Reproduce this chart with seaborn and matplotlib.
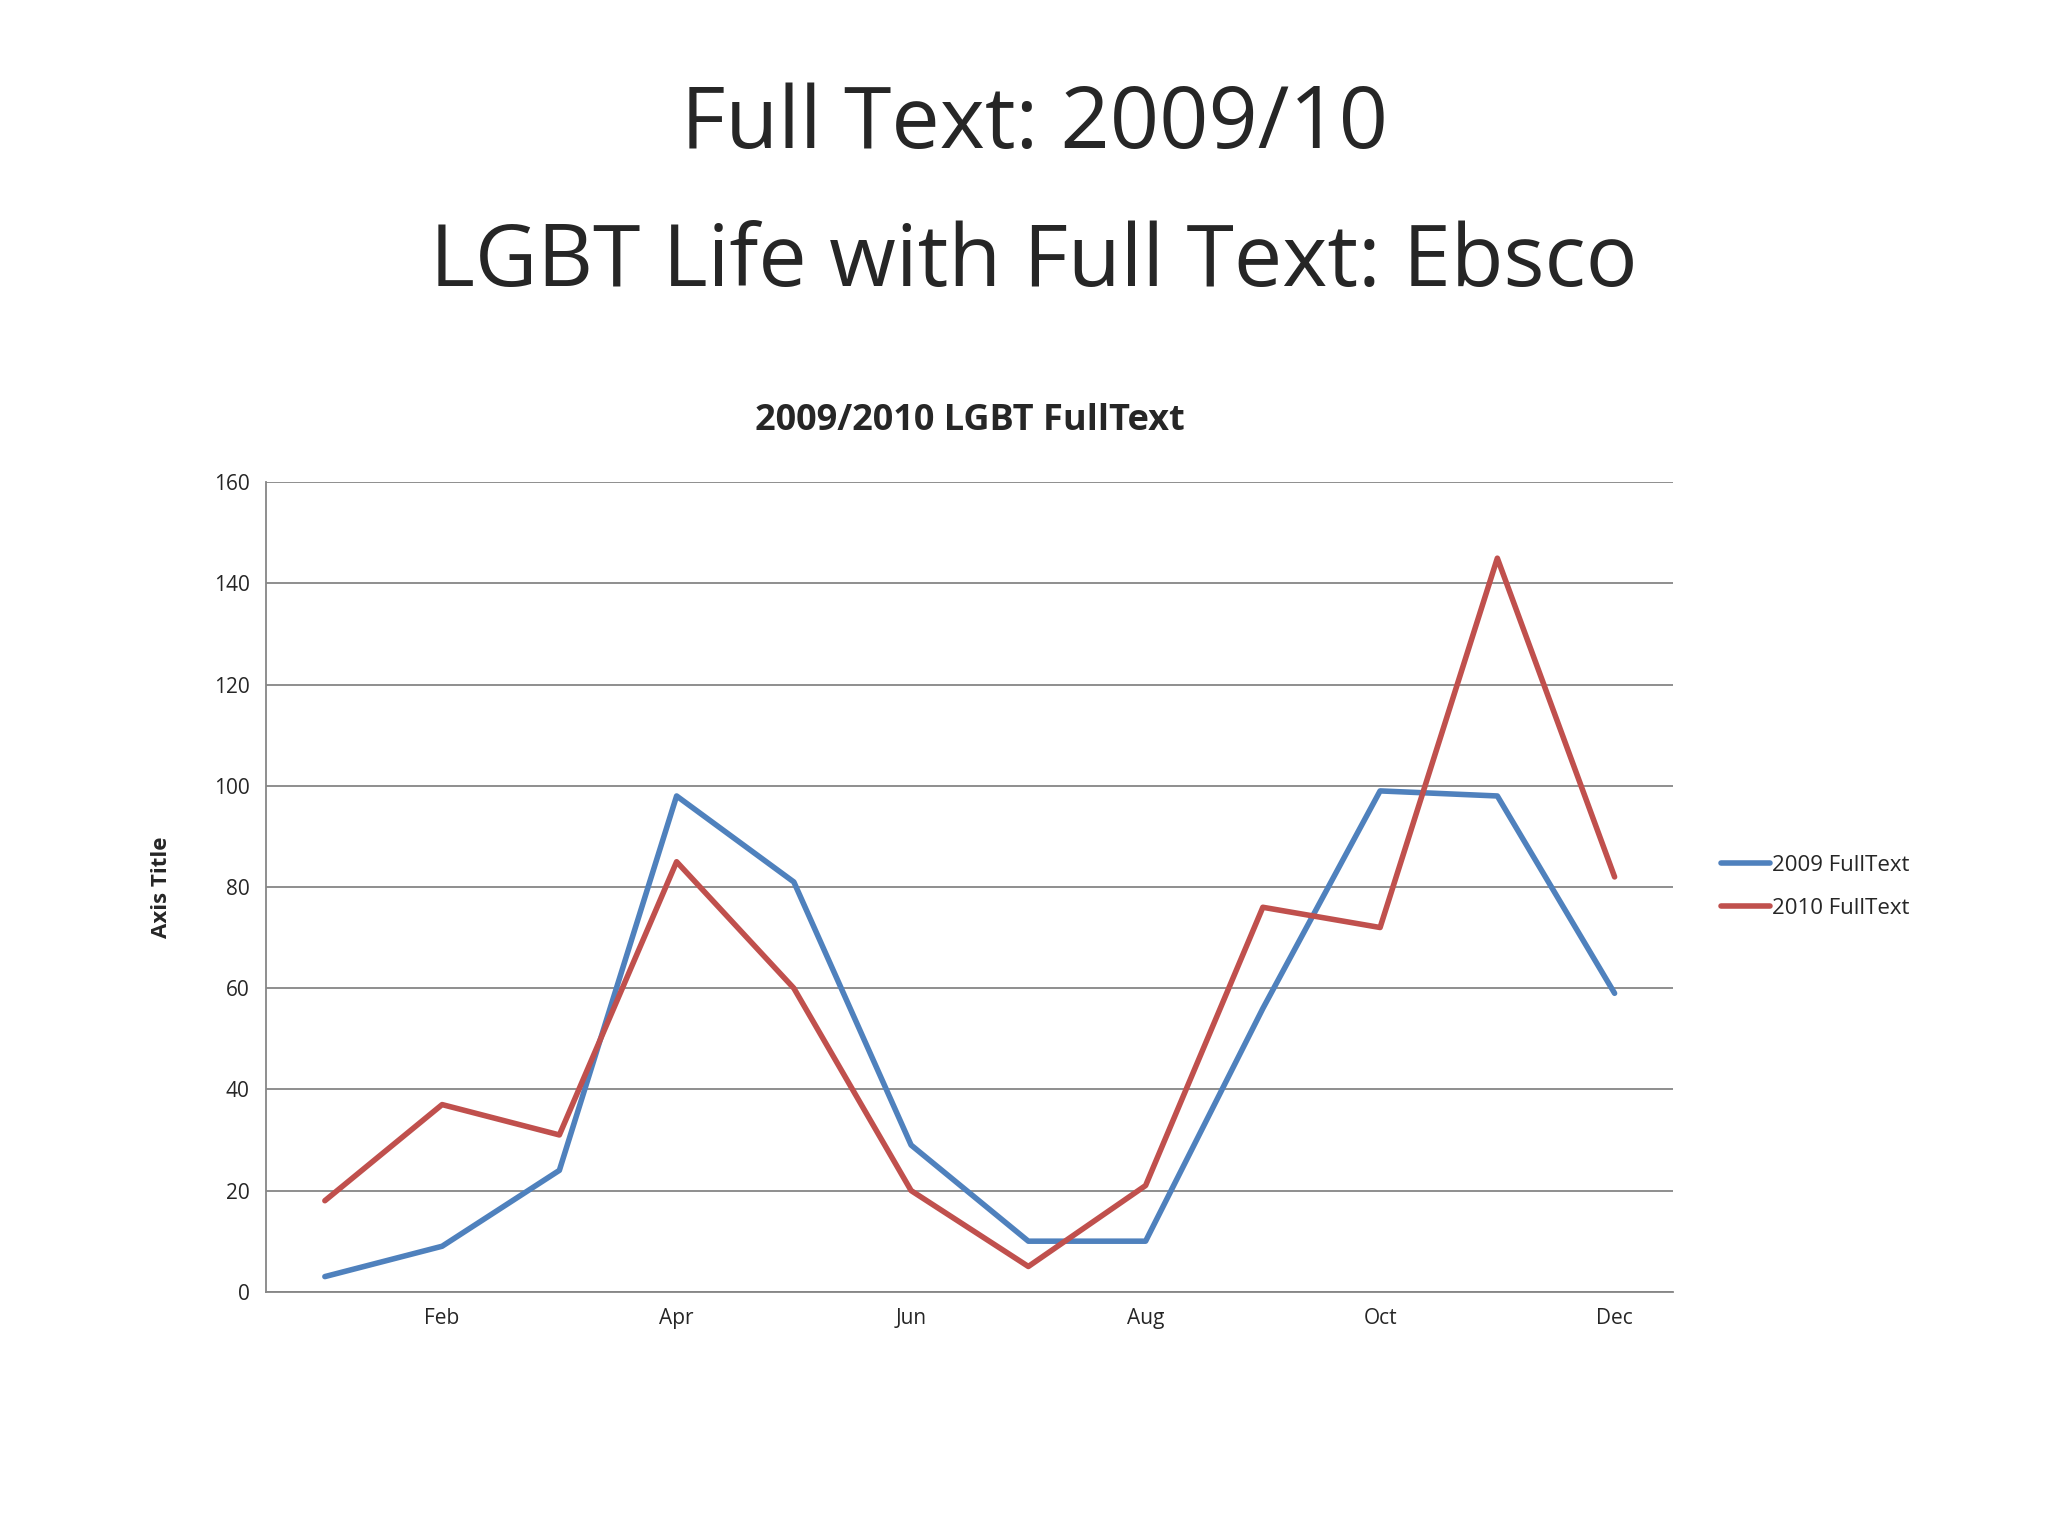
import matplotlib
matplotlib.use("Agg")
import matplotlib.pyplot as plt
import seaborn as sns
import pandas as pd

months = ["Jan","Feb","Mar","Apr","May","Jun","Jul","Aug","Sep","Oct","Nov","Dec"]
fulltext_2009 = [3, 9, 24, 98, 81, 29, 10, 10, 56, 99, 98, 59]
fulltext_2010 = [18, 37, 31, 85, 60, 20, 5, 21, 76, 72, 145, 82]
series_names = ["2009 FullText", "2010 FullText"]
colors = ["#4F81BD", "#C0504D"]

sns.set_style("white")
plt.rcParams['font.family'] = ['Open Sans', 'DejaVu Sans']

df = pd.DataFrame({
    "x": list(range(12)) * 2,
    "v": fulltext_2009 + fulltext_2010,
    "s": [series_names[0]] * 12 + [series_names[1]] * 12,
})

fig = plt.figure(figsize=(20.48, 15.36), dpi=100)
ax = fig.add_axes([0.130, 0.159, 0.687, 0.527])
sns.lineplot(data=df, x="x", y="v", hue="s", palette=colors, linewidth=4, ax=ax)

ax.set_xlim(-0.5, 11.5)
ax.set_ylim(0, 160)
ax.set_yticks(range(0, 161, 20))
ax.set_xticks(range(1, 12, 2))
ax.set_xticklabels(months[1::2])
ax.tick_params(axis='both', labelsize=15, length=0, pad=12)
ax.grid(axis='y', color='#868686', linewidth=1.3)
ax.set_axisbelow(True)
for sp in ["top", "right"]:
    ax.spines[sp].set_visible(False)
for sp in ["left", "bottom"]:
    ax.spines[sp].set_color('#868686')
    ax.spines[sp].set_linewidth(1.3)
ax.set_xlabel("")
ax.set_ylabel("Axis Title", fontsize=16, fontweight='bold', labelpad=30)
ax.set_title("2009/2010 LGBT FullText", fontsize=26, fontweight='bold', pad=38)

leg = ax.legend(loc='center left', bbox_to_anchor=(1.02, 0.5), frameon=False,
                fontsize=16, handlelength=2.2, handletextpad=0.1, labelspacing=1.0)

fig.text(0.505, 0.918, "Full Text: 2009/10", ha='center', va='center', fontsize=62)
fig.text(0.505, 0.828, "LGBT Life with Full Text: Ebsco", ha='center', va='center', fontsize=62)

fig.savefig("out.png", dpi=100)
